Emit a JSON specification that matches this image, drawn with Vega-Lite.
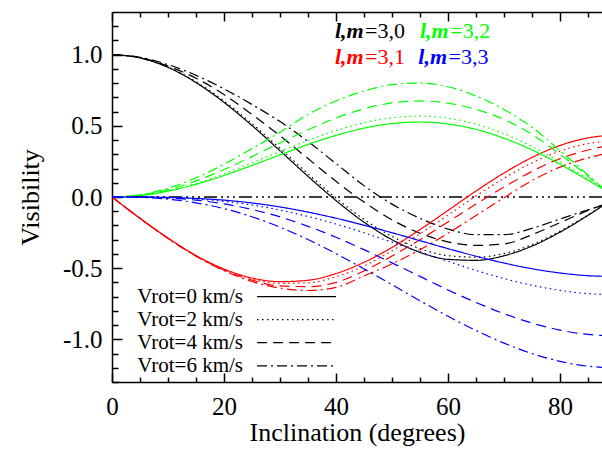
{
"$schema": "https://vega.github.io/schema/vega-lite/v6.json",
"width": 490, "height": 370,
"autosize": {"type": "none"},
"padding": {"left": 112, "top": 12, "right": 0, "bottom": 69},
"background": "white",
"config": {"view": {"stroke": null}, "axis": {"labelFont": "Liberation Serif", "titleFont": "Liberation Serif", "domainColor": "black", "tickColor": "black", "labelColor": "black", "titleColor": "black", "grid": false, "titleFontWeight": "normal"}},
"datasets": {"curves": [
{"inc":0,"vis":1,"lm":"3,0","vrot":"0"},{"inc":5,"vis":0.977,"lm":"3,0","vrot":"0"},{"inc":10,"vis":0.911,"lm":"3,0","vrot":"0"},{"inc":15,"vis":0.804,"lm":"3,0","vrot":"0"},{"inc":20,"vis":0.665,"lm":"3,0","vrot":"0"},{"inc":25,"vis":0.502,"lm":"3,0","vrot":"0"},{"inc":30,"vis":0.325,"lm":"3,0","vrot":"0"},{"inc":35,"vis":0.145,"lm":"3,0","vrot":"0"},{"inc":40,"vis":-0.025,"lm":"3,0","vrot":"0"},{"inc":45,"vis":-0.177,"lm":"3,0","vrot":"0"},{"inc":50,"vis":-0.3,"lm":"3,0","vrot":"0"},{"inc":55,"vis":-0.389,"lm":"3,0","vrot":"0"},{"inc":60,"vis":-0.438,"lm":"3,0","vrot":"0"},{"inc":65,"vis":-0.445,"lm":"3,0","vrot":"0"},{"inc":70,"vis":-0.413,"lm":"3,0","vrot":"0"},{"inc":75,"vis":-0.345,"lm":"3,0","vrot":"0"},{"inc":80,"vis":-0.247,"lm":"3,0","vrot":"0"},{"inc":85,"vis":-0.129,"lm":"3,0","vrot":"0"},{"inc":87.5,"vis":-0.065,"lm":"3,0","vrot":"0"},
{"inc":0,"vis":1,"lm":"3,0","vrot":"2"},{"inc":5,"vis":0.978,"lm":"3,0","vrot":"2"},{"inc":10,"vis":0.913,"lm":"3,0","vrot":"2"},{"inc":15,"vis":0.81,"lm":"3,0","vrot":"2"},{"inc":20,"vis":0.675,"lm":"3,0","vrot":"2"},{"inc":25,"vis":0.515,"lm":"3,0","vrot":"2"},{"inc":30,"vis":0.342,"lm":"3,0","vrot":"2"},{"inc":35,"vis":0.163,"lm":"3,0","vrot":"2"},{"inc":40,"vis":-0.007,"lm":"3,0","vrot":"2"},{"inc":45,"vis":-0.157,"lm":"3,0","vrot":"2"},{"inc":50,"vis":-0.277,"lm":"3,0","vrot":"2"},{"inc":55,"vis":-0.363,"lm":"3,0","vrot":"2"},{"inc":60,"vis":-0.412,"lm":"3,0","vrot":"2"},{"inc":65,"vis":-0.423,"lm":"3,0","vrot":"2"},{"inc":70,"vis":-0.398,"lm":"3,0","vrot":"2"},{"inc":75,"vis":-0.335,"lm":"3,0","vrot":"2"},{"inc":80,"vis":-0.24,"lm":"3,0","vrot":"2"},{"inc":85,"vis":-0.126,"lm":"3,0","vrot":"2"},{"inc":87.5,"vis":-0.063,"lm":"3,0","vrot":"2"},
{"inc":0,"vis":1,"lm":"3,0","vrot":"4"},{"inc":5,"vis":0.98,"lm":"3,0","vrot":"4"},{"inc":10,"vis":0.92,"lm":"3,0","vrot":"4"},{"inc":15,"vis":0.835,"lm":"3,0","vrot":"4"},{"inc":20,"vis":0.72,"lm":"3,0","vrot":"4"},{"inc":25,"vis":0.58,"lm":"3,0","vrot":"4"},{"inc":30,"vis":0.43,"lm":"3,0","vrot":"4"},{"inc":35,"vis":0.27,"lm":"3,0","vrot":"4"},{"inc":40,"vis":0.11,"lm":"3,0","vrot":"4"},{"inc":45,"vis":-0.035,"lm":"3,0","vrot":"4"},{"inc":50,"vis":-0.16,"lm":"3,0","vrot":"4"},{"inc":55,"vis":-0.255,"lm":"3,0","vrot":"4"},{"inc":60,"vis":-0.315,"lm":"3,0","vrot":"4"},{"inc":65,"vis":-0.34,"lm":"3,0","vrot":"4"},{"inc":70,"vis":-0.33,"lm":"3,0","vrot":"4"},{"inc":75,"vis":-0.265,"lm":"3,0","vrot":"4"},{"inc":80,"vis":-0.18,"lm":"3,0","vrot":"4"},{"inc":85,"vis":-0.095,"lm":"3,0","vrot":"4"},{"inc":87.5,"vis":-0.058,"lm":"3,0","vrot":"4"},
{"inc":0,"vis":1,"lm":"3,0","vrot":"6"},{"inc":5,"vis":0.982,"lm":"3,0","vrot":"6"},{"inc":10,"vis":0.93,"lm":"3,0","vrot":"6"},{"inc":15,"vis":0.855,"lm":"3,0","vrot":"6"},{"inc":20,"vis":0.76,"lm":"3,0","vrot":"6"},{"inc":25,"vis":0.65,"lm":"3,0","vrot":"6"},{"inc":30,"vis":0.53,"lm":"3,0","vrot":"6"},{"inc":35,"vis":0.39,"lm":"3,0","vrot":"6"},{"inc":40,"vis":0.235,"lm":"3,0","vrot":"6"},{"inc":45,"vis":0.08,"lm":"3,0","vrot":"6"},{"inc":50,"vis":-0.05,"lm":"3,0","vrot":"6"},{"inc":55,"vis":-0.15,"lm":"3,0","vrot":"6"},{"inc":60,"vis":-0.225,"lm":"3,0","vrot":"6"},{"inc":65,"vis":-0.265,"lm":"3,0","vrot":"6"},{"inc":70,"vis":-0.265,"lm":"3,0","vrot":"6"},{"inc":75,"vis":-0.22,"lm":"3,0","vrot":"6"},{"inc":80,"vis":-0.155,"lm":"3,0","vrot":"6"},{"inc":85,"vis":-0.09,"lm":"3,0","vrot":"6"},{"inc":87.5,"vis":-0.058,"lm":"3,0","vrot":"6"},
{"inc":0,"vis":0,"lm":"3,1","vrot":"0"},{"inc":5,"vis":-0.15,"lm":"3,1","vrot":"0"},{"inc":10,"vis":-0.289,"lm":"3,1","vrot":"0"},{"inc":15,"vis":-0.411,"lm":"3,1","vrot":"0"},{"inc":20,"vis":-0.506,"lm":"3,1","vrot":"0"},{"inc":25,"vis":-0.569,"lm":"3,1","vrot":"0"},{"inc":30,"vis":-0.595,"lm":"3,1","vrot":"0"},{"inc":35,"vis":-0.585,"lm":"3,1","vrot":"0"},{"inc":40,"vis":-0.538,"lm":"3,1","vrot":"0"},{"inc":45,"vis":-0.459,"lm":"3,1","vrot":"0"},{"inc":50,"vis":-0.354,"lm":"3,1","vrot":"0"},{"inc":55,"vis":-0.229,"lm":"3,1","vrot":"0"},{"inc":60,"vis":-0.094,"lm":"3,1","vrot":"0"},{"inc":65,"vis":0.042,"lm":"3,1","vrot":"0"},{"inc":70,"vis":0.169,"lm":"3,1","vrot":"0"},{"inc":75,"vis":0.278,"lm":"3,1","vrot":"0"},{"inc":80,"vis":0.362,"lm":"3,1","vrot":"0"},{"inc":85,"vis":0.415,"lm":"3,1","vrot":"0"},{"inc":87.5,"vis":0.429,"lm":"3,1","vrot":"0"},
{"inc":0,"vis":0,"lm":"3,1","vrot":"2"},{"inc":5,"vis":-0.15,"lm":"3,1","vrot":"2"},{"inc":10,"vis":-0.29,"lm":"3,1","vrot":"2"},{"inc":15,"vis":-0.413,"lm":"3,1","vrot":"2"},{"inc":20,"vis":-0.51,"lm":"3,1","vrot":"2"},{"inc":25,"vis":-0.577,"lm":"3,1","vrot":"2"},{"inc":30,"vis":-0.607,"lm":"3,1","vrot":"2"},{"inc":35,"vis":-0.603,"lm":"3,1","vrot":"2"},{"inc":40,"vis":-0.56,"lm":"3,1","vrot":"2"},{"inc":45,"vis":-0.485,"lm":"3,1","vrot":"2"},{"inc":50,"vis":-0.378,"lm":"3,1","vrot":"2"},{"inc":55,"vis":-0.258,"lm":"3,1","vrot":"2"},{"inc":60,"vis":-0.127,"lm":"3,1","vrot":"2"},{"inc":65,"vis":0.007,"lm":"3,1","vrot":"2"},{"inc":70,"vis":0.132,"lm":"3,1","vrot":"2"},{"inc":75,"vis":0.24,"lm":"3,1","vrot":"2"},{"inc":80,"vis":0.322,"lm":"3,1","vrot":"2"},{"inc":85,"vis":0.375,"lm":"3,1","vrot":"2"},{"inc":87.5,"vis":0.389,"lm":"3,1","vrot":"2"},
{"inc":0,"vis":0,"lm":"3,1","vrot":"4"},{"inc":5,"vis":-0.15,"lm":"3,1","vrot":"4"},{"inc":10,"vis":-0.29,"lm":"3,1","vrot":"4"},{"inc":15,"vis":-0.414,"lm":"3,1","vrot":"4"},{"inc":20,"vis":-0.513,"lm":"3,1","vrot":"4"},{"inc":25,"vis":-0.584,"lm":"3,1","vrot":"4"},{"inc":30,"vis":-0.625,"lm":"3,1","vrot":"4"},{"inc":35,"vis":-0.63,"lm":"3,1","vrot":"4"},{"inc":40,"vis":-0.6,"lm":"3,1","vrot":"4"},{"inc":45,"vis":-0.52,"lm":"3,1","vrot":"4"},{"inc":50,"vis":-0.415,"lm":"3,1","vrot":"4"},{"inc":55,"vis":-0.3,"lm":"3,1","vrot":"4"},{"inc":60,"vis":-0.175,"lm":"3,1","vrot":"4"},{"inc":65,"vis":-0.05,"lm":"3,1","vrot":"4"},{"inc":70,"vis":0.07,"lm":"3,1","vrot":"4"},{"inc":75,"vis":0.18,"lm":"3,1","vrot":"4"},{"inc":80,"vis":0.27,"lm":"3,1","vrot":"4"},{"inc":85,"vis":0.33,"lm":"3,1","vrot":"4"},{"inc":87.5,"vis":0.353,"lm":"3,1","vrot":"4"},
{"inc":0,"vis":0,"lm":"3,1","vrot":"6"},{"inc":5,"vis":-0.15,"lm":"3,1","vrot":"6"},{"inc":10,"vis":-0.291,"lm":"3,1","vrot":"6"},{"inc":15,"vis":-0.416,"lm":"3,1","vrot":"6"},{"inc":20,"vis":-0.518,"lm":"3,1","vrot":"6"},{"inc":25,"vis":-0.594,"lm":"3,1","vrot":"6"},{"inc":30,"vis":-0.64,"lm":"3,1","vrot":"6"},{"inc":35,"vis":-0.657,"lm":"3,1","vrot":"6"},{"inc":40,"vis":-0.635,"lm":"3,1","vrot":"6"},{"inc":45,"vis":-0.555,"lm":"3,1","vrot":"6"},{"inc":50,"vis":-0.47,"lm":"3,1","vrot":"6"},{"inc":55,"vis":-0.37,"lm":"3,1","vrot":"6"},{"inc":60,"vis":-0.255,"lm":"3,1","vrot":"6"},{"inc":65,"vis":-0.13,"lm":"3,1","vrot":"6"},{"inc":70,"vis":-0.005,"lm":"3,1","vrot":"6"},{"inc":75,"vis":0.115,"lm":"3,1","vrot":"6"},{"inc":80,"vis":0.21,"lm":"3,1","vrot":"6"},{"inc":85,"vis":0.275,"lm":"3,1","vrot":"6"},{"inc":87.5,"vis":0.3,"lm":"3,1","vrot":"6"},
{"inc":0,"vis":0,"lm":"3,2","vrot":"0"},{"inc":5,"vis":0.01,"lm":"3,2","vrot":"0"},{"inc":10,"vis":0.041,"lm":"3,2","vrot":"0"},{"inc":15,"vis":0.089,"lm":"3,2","vrot":"0"},{"inc":20,"vis":0.151,"lm":"3,2","vrot":"0"},{"inc":25,"vis":0.222,"lm":"3,2","vrot":"0"},{"inc":30,"vis":0.296,"lm":"3,2","vrot":"0"},{"inc":35,"vis":0.369,"lm":"3,2","vrot":"0"},{"inc":40,"vis":0.433,"lm":"3,2","vrot":"0"},{"inc":45,"vis":0.484,"lm":"3,2","vrot":"0"},{"inc":50,"vis":0.516,"lm":"3,2","vrot":"0"},{"inc":55,"vis":0.527,"lm":"3,2","vrot":"0"},{"inc":60,"vis":0.513,"lm":"3,2","vrot":"0"},{"inc":65,"vis":0.475,"lm":"3,2","vrot":"0"},{"inc":70,"vis":0.413,"lm":"3,2","vrot":"0"},{"inc":75,"vis":0.331,"lm":"3,2","vrot":"0"},{"inc":80,"vis":0.231,"lm":"3,2","vrot":"0"},{"inc":85,"vis":0.118,"lm":"3,2","vrot":"0"},{"inc":87.5,"vis":0.06,"lm":"3,2","vrot":"0"},
{"inc":0,"vis":0,"lm":"3,2","vrot":"2"},{"inc":5,"vis":0.011,"lm":"3,2","vrot":"2"},{"inc":10,"vis":0.044,"lm":"3,2","vrot":"2"},{"inc":15,"vis":0.096,"lm":"3,2","vrot":"2"},{"inc":20,"vis":0.163,"lm":"3,2","vrot":"2"},{"inc":25,"vis":0.24,"lm":"3,2","vrot":"2"},{"inc":30,"vis":0.32,"lm":"3,2","vrot":"2"},{"inc":35,"vis":0.398,"lm":"3,2","vrot":"2"},{"inc":40,"vis":0.467,"lm":"3,2","vrot":"2"},{"inc":45,"vis":0.522,"lm":"3,2","vrot":"2"},{"inc":50,"vis":0.557,"lm":"3,2","vrot":"2"},{"inc":55,"vis":0.568,"lm":"3,2","vrot":"2"},{"inc":60,"vis":0.553,"lm":"3,2","vrot":"2"},{"inc":65,"vis":0.512,"lm":"3,2","vrot":"2"},{"inc":70,"vis":0.445,"lm":"3,2","vrot":"2"},{"inc":75,"vis":0.355,"lm":"3,2","vrot":"2"},{"inc":80,"vis":0.248,"lm":"3,2","vrot":"2"},{"inc":85,"vis":0.127,"lm":"3,2","vrot":"2"},{"inc":87.5,"vis":0.062,"lm":"3,2","vrot":"2"},
{"inc":0,"vis":0,"lm":"3,2","vrot":"4"},{"inc":5,"vis":0.013,"lm":"3,2","vrot":"4"},{"inc":10,"vis":0.052,"lm":"3,2","vrot":"4"},{"inc":15,"vis":0.113,"lm":"3,2","vrot":"4"},{"inc":20,"vis":0.193,"lm":"3,2","vrot":"4"},{"inc":25,"vis":0.284,"lm":"3,2","vrot":"4"},{"inc":30,"vis":0.38,"lm":"3,2","vrot":"4"},{"inc":35,"vis":0.472,"lm":"3,2","vrot":"4"},{"inc":40,"vis":0.555,"lm":"3,2","vrot":"4"},{"inc":45,"vis":0.62,"lm":"3,2","vrot":"4"},{"inc":50,"vis":0.661,"lm":"3,2","vrot":"4"},{"inc":55,"vis":0.675,"lm":"3,2","vrot":"4"},{"inc":60,"vis":0.66,"lm":"3,2","vrot":"4"},{"inc":65,"vis":0.615,"lm":"3,2","vrot":"4"},{"inc":70,"vis":0.545,"lm":"3,2","vrot":"4"},{"inc":75,"vis":0.44,"lm":"3,2","vrot":"4"},{"inc":80,"vis":0.3,"lm":"3,2","vrot":"4"},{"inc":85,"vis":0.145,"lm":"3,2","vrot":"4"},{"inc":87.5,"vis":0.065,"lm":"3,2","vrot":"4"},
{"inc":0,"vis":0,"lm":"3,2","vrot":"6"},{"inc":5,"vis":0.016,"lm":"3,2","vrot":"6"},{"inc":10,"vis":0.062,"lm":"3,2","vrot":"6"},{"inc":15,"vis":0.135,"lm":"3,2","vrot":"6"},{"inc":20,"vis":0.23,"lm":"3,2","vrot":"6"},{"inc":25,"vis":0.34,"lm":"3,2","vrot":"6"},{"inc":30,"vis":0.455,"lm":"3,2","vrot":"6"},{"inc":35,"vis":0.58,"lm":"3,2","vrot":"6"},{"inc":40,"vis":0.675,"lm":"3,2","vrot":"6"},{"inc":45,"vis":0.745,"lm":"3,2","vrot":"6"},{"inc":50,"vis":0.79,"lm":"3,2","vrot":"6"},{"inc":55,"vis":0.8,"lm":"3,2","vrot":"6"},{"inc":60,"vis":0.775,"lm":"3,2","vrot":"6"},{"inc":65,"vis":0.71,"lm":"3,2","vrot":"6"},{"inc":70,"vis":0.615,"lm":"3,2","vrot":"6"},{"inc":75,"vis":0.49,"lm":"3,2","vrot":"6"},{"inc":80,"vis":0.325,"lm":"3,2","vrot":"6"},{"inc":85,"vis":0.155,"lm":"3,2","vrot":"6"},{"inc":87.5,"vis":0.066,"lm":"3,2","vrot":"6"},
{"inc":0,"vis":0,"lm":"3,3","vrot":"0"},{"inc":5,"vis":0,"lm":"3,3","vrot":"0"},{"inc":10,"vis":-0.003,"lm":"3,3","vrot":"0"},{"inc":15,"vis":-0.01,"lm":"3,3","vrot":"0"},{"inc":20,"vis":-0.022,"lm":"3,3","vrot":"0"},{"inc":25,"vis":-0.042,"lm":"3,3","vrot":"0"},{"inc":30,"vis":-0.07,"lm":"3,3","vrot":"0"},{"inc":35,"vis":-0.106,"lm":"3,3","vrot":"0"},{"inc":40,"vis":-0.149,"lm":"3,3","vrot":"0"},{"inc":45,"vis":-0.198,"lm":"3,3","vrot":"0"},{"inc":50,"vis":-0.251,"lm":"3,3","vrot":"0"},{"inc":55,"vis":-0.307,"lm":"3,3","vrot":"0"},{"inc":60,"vis":-0.363,"lm":"3,3","vrot":"0"},{"inc":65,"vis":-0.416,"lm":"3,3","vrot":"0"},{"inc":70,"vis":-0.464,"lm":"3,3","vrot":"0"},{"inc":75,"vis":-0.504,"lm":"3,3","vrot":"0"},{"inc":80,"vis":-0.534,"lm":"3,3","vrot":"0"},{"inc":85,"vis":-0.553,"lm":"3,3","vrot":"0"},{"inc":87.5,"vis":-0.557,"lm":"3,3","vrot":"0"},
{"inc":0,"vis":0,"lm":"3,3","vrot":"2"},{"inc":5,"vis":-0.001,"lm":"3,3","vrot":"2"},{"inc":10,"vis":-0.004,"lm":"3,3","vrot":"2"},{"inc":15,"vis":-0.014,"lm":"3,3","vrot":"2"},{"inc":20,"vis":-0.031,"lm":"3,3","vrot":"2"},{"inc":25,"vis":-0.056,"lm":"3,3","vrot":"2"},{"inc":30,"vis":-0.092,"lm":"3,3","vrot":"2"},{"inc":35,"vis":-0.137,"lm":"3,3","vrot":"2"},{"inc":40,"vis":-0.19,"lm":"3,3","vrot":"2"},{"inc":45,"vis":-0.251,"lm":"3,3","vrot":"2"},{"inc":50,"vis":-0.317,"lm":"3,3","vrot":"2"},{"inc":55,"vis":-0.385,"lm":"3,3","vrot":"2"},{"inc":60,"vis":-0.452,"lm":"3,3","vrot":"2"},{"inc":65,"vis":-0.516,"lm":"3,3","vrot":"2"},{"inc":70,"vis":-0.573,"lm":"3,3","vrot":"2"},{"inc":75,"vis":-0.62,"lm":"3,3","vrot":"2"},{"inc":80,"vis":-0.656,"lm":"3,3","vrot":"2"},{"inc":85,"vis":-0.679,"lm":"3,3","vrot":"2"},{"inc":87.5,"vis":-0.684,"lm":"3,3","vrot":"2"},
{"inc":0,"vis":0,"lm":"3,3","vrot":"4"},{"inc":5,"vis":-0.001,"lm":"3,3","vrot":"4"},{"inc":10,"vis":-0.007,"lm":"3,3","vrot":"4"},{"inc":15,"vis":-0.022,"lm":"3,3","vrot":"4"},{"inc":20,"vis":-0.048,"lm":"3,3","vrot":"4"},{"inc":25,"vis":-0.088,"lm":"3,3","vrot":"4"},{"inc":30,"vis":-0.14,"lm":"3,3","vrot":"4"},{"inc":35,"vis":-0.206,"lm":"3,3","vrot":"4"},{"inc":40,"vis":-0.283,"lm":"3,3","vrot":"4"},{"inc":45,"vis":-0.37,"lm":"3,3","vrot":"4"},{"inc":50,"vis":-0.463,"lm":"3,3","vrot":"4"},{"inc":55,"vis":-0.558,"lm":"3,3","vrot":"4"},{"inc":60,"vis":-0.653,"lm":"3,3","vrot":"4"},{"inc":65,"vis":-0.741,"lm":"3,3","vrot":"4"},{"inc":70,"vis":-0.82,"lm":"3,3","vrot":"4"},{"inc":75,"vis":-0.886,"lm":"3,3","vrot":"4"},{"inc":80,"vis":-0.935,"lm":"3,3","vrot":"4"},{"inc":85,"vis":-0.966,"lm":"3,3","vrot":"4"},{"inc":87.5,"vis":-0.973,"lm":"3,3","vrot":"4"},
{"inc":0,"vis":0,"lm":"3,3","vrot":"6"},{"inc":5,"vis":-0.003,"lm":"3,3","vrot":"6"},{"inc":10,"vis":-0.015,"lm":"3,3","vrot":"6"},{"inc":15,"vis":-0.041,"lm":"3,3","vrot":"6"},{"inc":20,"vis":-0.082,"lm":"3,3","vrot":"6"},{"inc":25,"vis":-0.139,"lm":"3,3","vrot":"6"},{"inc":30,"vis":-0.212,"lm":"3,3","vrot":"6"},{"inc":35,"vis":-0.299,"lm":"3,3","vrot":"6"},{"inc":40,"vis":-0.398,"lm":"3,3","vrot":"6"},{"inc":45,"vis":-0.505,"lm":"3,3","vrot":"6"},{"inc":50,"vis":-0.616,"lm":"3,3","vrot":"6"},{"inc":55,"vis":-0.729,"lm":"3,3","vrot":"6"},{"inc":60,"vis":-0.838,"lm":"3,3","vrot":"6"},{"inc":65,"vis":-0.938,"lm":"3,3","vrot":"6"},{"inc":70,"vis":-1.027,"lm":"3,3","vrot":"6"},{"inc":75,"vis":-1.1,"lm":"3,3","vrot":"6"},{"inc":80,"vis":-1.155,"lm":"3,3","vrot":"6"},{"inc":85,"vis":-1.189,"lm":"3,3","vrot":"6"},{"inc":87.5,"vis":-1.197,"lm":"3,3","vrot":"6"}
]},
"resolve": {"axis": {"x": "independent", "y": "independent"}},
"layer": [
{"data": {"values": [{}]}, "mark": {"type": "rule", "color": "black", "strokeWidth": 1.3, "strokeDash": [13, 4, 2, 4, 2, 4, 2, 4]},
 "encoding": {"y": {"datum": 0, "type": "quantitative", "scale": {"domain": [-1.3, 1.3], "nice": false, "zero": false}, "axis": null}}},
{"data": {"name": "curves"},
 "mark": {"type": "line", "strokeWidth": 1.2, "interpolate": "monotone"},
 "encoding": {
  "x": {"field": "inc", "type": "quantitative", "scale": {"domain": [0, 87.5], "nice": false, "zero": false},
        "axis": {"orient": "bottom", "values": [0, 20, 40, 60, 80], "ticks": false, "domain": true, "domainWidth": 1.5, "labelFontSize": 25, "labelPadding": 12, "labelFlush": false, "labelOverlap": false, "title": "Inclination (degrees)", "titleFontSize": 26, "titlePadding": 0}},
  "y": {"field": "vis", "type": "quantitative", "scale": {"domain": [-1.3, 1.3], "nice": false, "zero": false},
        "axis": {"orient": "left", "values": [-1, -0.5, 0, 0.5, 1], "ticks": false, "domain": true, "domainWidth": 1.5, "labelFontSize": 25, "labelPadding": 10, "labelBaseline": "middle", "labelOverlap": false, "labelExpr": "datum.value < 0 ? '-' + format(-datum.value, '.1f') : format(datum.value, '.1f')", "title": "Visibility", "titleFontSize": 26, "titlePadding": 19}},
  "color": {"field": "lm", "type": "nominal", "scale": {"domain": ["3,0", "3,1", "3,2", "3,3"], "range": ["#000000", "#ff0000", "#00ff00", "#0000ff"]}, "legend": null},
  "strokeDash": {"field": "vrot", "type": "nominal", "scale": {"domain": ["0", "2", "4", "6"], "range": [[1, 0], [1.5, 3.5], [10, 6], [10, 4, 2, 4]]}, "legend": null}
 }},
{"data": {"values": [{}]}, "mark": {"type": "point", "opacity": 0}, "encoding": {"x": {"datum": 0, "type": "quantitative", "axis": {"orient": "bottom", "values": [0, 20, 40, 60, 80], "labels": false, "domain": false, "ticks": true, "tickSize": 9, "offset": -9, "tickWidth": 1.5, "title": null, "grid": false}}}},
{"data": {"values": [{}]}, "mark": {"type": "point", "opacity": 0}, "encoding": {"x": {"datum": 0, "type": "quantitative", "axis": {"orient": "bottom", "values": [5, 10, 15, 25, 30, 35, 45, 50, 55, 65, 70, 75, 85], "labels": false, "domain": false, "ticks": true, "tickSize": 5, "offset": -5, "tickWidth": 1.5, "title": null, "grid": false}}}},
{"data": {"values": [{}]}, "mark": {"type": "point", "opacity": 0}, "encoding": {"x": {"datum": 0, "type": "quantitative", "axis": {"orient": "top", "labels": false, "domain": true, "domainWidth": 1.5, "ticks": false, "title": null, "grid": false}}}},
{"data": {"values": [{}]}, "mark": {"type": "point", "opacity": 0}, "encoding": {"x": {"datum": 0, "type": "quantitative", "axis": {"orient": "top", "values": [0, 20, 40, 60, 80], "labels": false, "domain": false, "ticks": true, "tickSize": 9, "offset": -9, "tickWidth": 1.5, "title": null, "grid": false}}}},
{"data": {"values": [{}]}, "mark": {"type": "point", "opacity": 0}, "encoding": {"x": {"datum": 0, "type": "quantitative", "axis": {"orient": "top", "values": [5, 10, 15, 25, 30, 35, 45, 50, 55, 65, 70, 75, 85], "labels": false, "domain": false, "ticks": true, "tickSize": 5, "offset": -5, "tickWidth": 1.5, "title": null, "grid": false}}}},
{"data": {"values": [{}]}, "mark": {"type": "point", "opacity": 0}, "encoding": {"y": {"datum": 0, "type": "quantitative", "axis": {"orient": "left", "values": [-1, -0.5, 0, 0.5, 1], "labels": false, "domain": false, "ticks": true, "tickSize": 10, "offset": -10, "tickWidth": 1.5, "title": null, "grid": false}}}},
{"data": {"values": [{}]}, "mark": {"type": "point", "opacity": 0}, "encoding": {"y": {"datum": 0, "type": "quantitative", "axis": {"orient": "left", "values": [-1.3, -1.2, -1.1, -0.9, -0.8, -0.7, -0.6, -0.4, -0.3, -0.2, -0.1, 0.1, 0.2, 0.3, 0.4, 0.6, 0.7, 0.8, 0.9, 1.1, 1.2], "labels": false, "domain": false, "ticks": true, "tickSize": 6, "offset": -6, "tickWidth": 1.5, "title": null, "grid": false}}}},
{"data": {"values": [{}]}, "mark": {"type": "text", "font": "Liberation Serif", "fontSize": 22, "fontStyle": "italic", "fontWeight": "bold", "align": "left", "baseline": "alphabetic", "fill": "#000000"},
 "encoding": {"text": {"value": "l,m"}, "x": {"datum": 39.8, "type": "quantitative", "axis": null}, "y": {"datum": 1.12, "type": "quantitative", "axis": null}}},
{"data": {"values": [{}]}, "mark": {"type": "text", "font": "Liberation Serif", "fontSize": 22, "align": "left", "baseline": "alphabetic", "fill": "#000000"},
 "encoding": {"text": {"value": "=3,0"}, "x": {"datum": 45.2, "type": "quantitative", "axis": null}, "y": {"datum": 1.12, "type": "quantitative", "axis": null}}},
{"data": {"values": [{}]}, "mark": {"type": "text", "font": "Liberation Serif", "fontSize": 22, "fontStyle": "italic", "fontWeight": "bold", "align": "left", "baseline": "alphabetic", "fill": "#00ff00"},
 "encoding": {"text": {"value": "l,m"}, "x": {"datum": 55.0, "type": "quantitative", "axis": null}, "y": {"datum": 1.12, "type": "quantitative", "axis": null}}},
{"data": {"values": [{}]}, "mark": {"type": "text", "font": "Liberation Serif", "fontSize": 22, "align": "left", "baseline": "alphabetic", "fill": "#00ff00"},
 "encoding": {"text": {"value": "=3,2"}, "x": {"datum": 60.4, "type": "quantitative", "axis": null}, "y": {"datum": 1.12, "type": "quantitative", "axis": null}}},
{"data": {"values": [{}]}, "mark": {"type": "text", "font": "Liberation Serif", "fontSize": 22, "fontStyle": "italic", "fontWeight": "bold", "align": "left", "baseline": "alphabetic", "fill": "#ff0000"},
 "encoding": {"text": {"value": "l,m"}, "x": {"datum": 39.8, "type": "quantitative", "axis": null}, "y": {"datum": 0.933, "type": "quantitative", "axis": null}}},
{"data": {"values": [{}]}, "mark": {"type": "text", "font": "Liberation Serif", "fontSize": 22, "align": "left", "baseline": "alphabetic", "fill": "#ff0000"},
 "encoding": {"text": {"value": "=3,1"}, "x": {"datum": 45.2, "type": "quantitative", "axis": null}, "y": {"datum": 0.933, "type": "quantitative", "axis": null}}},
{"data": {"values": [{}]}, "mark": {"type": "text", "font": "Liberation Serif", "fontSize": 22, "fontStyle": "italic", "fontWeight": "bold", "align": "left", "baseline": "alphabetic", "fill": "#0000ff"},
 "encoding": {"text": {"value": "l,m"}, "x": {"datum": 54.7, "type": "quantitative", "axis": null}, "y": {"datum": 0.933, "type": "quantitative", "axis": null}}},
{"data": {"values": [{}]}, "mark": {"type": "text", "font": "Liberation Serif", "fontSize": 22, "align": "left", "baseline": "alphabetic", "fill": "#0000ff"},
 "encoding": {"text": {"value": "=3,3"}, "x": {"datum": 60.1, "type": "quantitative", "axis": null}, "y": {"datum": 0.933, "type": "quantitative", "axis": null}}},
{"data": {"values": [{}]}, "mark": {"type": "text", "font": "Liberation Serif", "fontSize": 21, "align": "right", "baseline": "middle", "fill": "#000000"},
 "encoding": {"text": {"value": "Vrot=0 km/s"}, "x": {"datum": 23.4, "type": "quantitative", "axis": null}, "y": {"datum": -0.7, "type": "quantitative", "axis": null}}},
{"data": {"values": [{}]}, "mark": {"type": "text", "font": "Liberation Serif", "fontSize": 21, "align": "right", "baseline": "middle", "fill": "#000000"},
 "encoding": {"text": {"value": "Vrot=2 km/s"}, "x": {"datum": 23.4, "type": "quantitative", "axis": null}, "y": {"datum": -0.862, "type": "quantitative", "axis": null}}},
{"data": {"values": [{}]}, "mark": {"type": "text", "font": "Liberation Serif", "fontSize": 21, "align": "right", "baseline": "middle", "fill": "#000000"},
 "encoding": {"text": {"value": "Vrot=4 km/s"}, "x": {"datum": 23.4, "type": "quantitative", "axis": null}, "y": {"datum": -1.024, "type": "quantitative", "axis": null}}},
{"data": {"values": [{}]}, "mark": {"type": "text", "font": "Liberation Serif", "fontSize": 21, "align": "right", "baseline": "middle", "fill": "#000000"},
 "encoding": {"text": {"value": "Vrot=6 km/s"}, "x": {"datum": 23.4, "type": "quantitative", "axis": null}, "y": {"datum": -1.186, "type": "quantitative", "axis": null}}},
{"data": {"values": [{}]}, "mark": {"type": "rule", "color": "black", "strokeWidth": 1.3},
 "encoding": {"x": {"datum": 25.9, "type": "quantitative", "axis": null}, "x2": {"datum": 40.0}, "y": {"datum": -0.7, "type": "quantitative", "axis": null}}},
{"data": {"values": [{}]}, "mark": {"type": "rule", "color": "black", "strokeWidth": 1.3, "strokeDash": [1.5, 3.5]},
 "encoding": {"x": {"datum": 25.9, "type": "quantitative", "axis": null}, "x2": {"datum": 40.0}, "y": {"datum": -0.862, "type": "quantitative", "axis": null}}},
{"data": {"values": [{}]}, "mark": {"type": "rule", "color": "black", "strokeWidth": 1.3, "strokeDash": [10, 6]},
 "encoding": {"x": {"datum": 25.9, "type": "quantitative", "axis": null}, "x2": {"datum": 40.0}, "y": {"datum": -1.024, "type": "quantitative", "axis": null}}},
{"data": {"values": [{}]}, "mark": {"type": "rule", "color": "black", "strokeWidth": 1.3, "strokeDash": [10, 4, 2, 4]},
 "encoding": {"x": {"datum": 25.9, "type": "quantitative", "axis": null}, "x2": {"datum": 40.0}, "y": {"datum": -1.186, "type": "quantitative", "axis": null}}}
]
}
